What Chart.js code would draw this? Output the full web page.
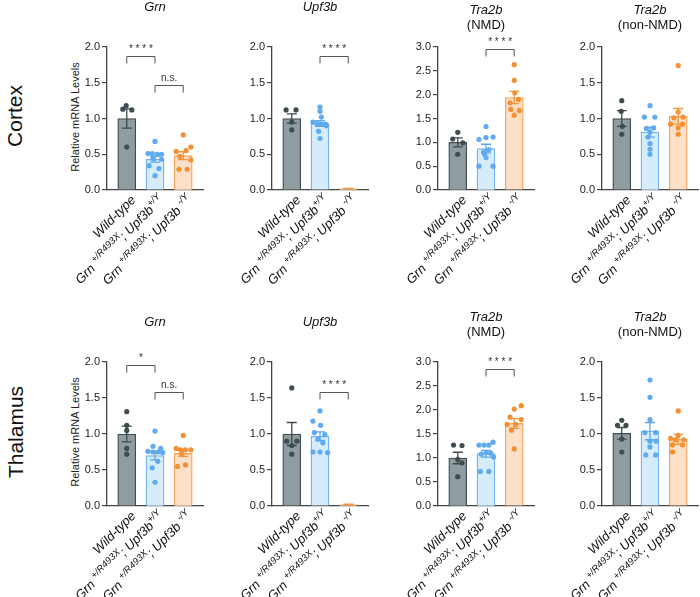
<!DOCTYPE html>
<html>
<head>
<meta charset="utf-8">
<script src="https://cdn.jsdelivr.net/npm/chart.js@4.4.1/dist/chart.umd.min.js"></script>
<style>
  body { margin: 0; background: #fff; font-family: Arial, "Liberation Sans", sans-serif; }
  #page { position: relative; width: 700px; height: 597px; overflow: hidden; background: #fff; }
  #page canvas { position: absolute; }
  .rot { position: absolute; transform: translate(-50%, -50%) rotate(-90deg); white-space: nowrap; color: #111; }
  .row-label { font-size: 21px; }
  .y-title { font-size: 11px; color: #222; }
</style>
</head>
<body>
<div id="page">
  <div class="rot row-label" style="left:15px; top:116px;">Cortex</div>
  <div class="rot row-label" style="left:16px; top:432px;">Thalamus</div>
  <div class="rot y-title" style="left:75px; top:117px;">Relative mRNA Levels</div>
  <div class="rot y-title" style="left:75px; top:432px;">Relative mRNA Levels</div>
</div>
<script>
// Groupes (étiquettes de l'axe x, avec exposants)
const groupLabels = [
    [['Wild-type', false]],
    [['Grn ', false], ['+/R493X', true], ['; Upf3b', false], ['+/Y', true]],
    [['Grn ', false], ['+/R493X', true], ['; Upf3b ', false], ['-/Y', true]]
];

// Panneaux : cortex (0-3), thalamus (4-7)
const titleMain = ['Grn', 'Upf3b', 'Tra2b', 'Tra2b', 'Grn', 'Upf3b', 'Tra2b', 'Tra2b'];
const titleSub = ['', '', '(NMD)', '(non-NMD)', '', '', '(NMD)', '(non-NMD)'];
const yMax = [2, 2, 3, 2, 2, 2, 3, 2];
const yTicks = [0, 0.5, 1.0, 1.5, 2.0, 2.5, 3.0];

// Moyennes et SEM [wt, het, ko]
const barMeans = [
    [1.0, 0.43, 0.48], [1.0, 0.93, 0.02], [1.0, 0.87, 1.94], [1.0, 0.81, 1.03],
    [1.0, 0.70, 0.73], [1.0, 0.97, 0.02], [1.0, 1.09, 1.72], [1.01, 1.04, 0.925]
];
const barSem = [
    [0.135, 0.04, 0.055], [0.065, 0.04, 0.004], [0.095, 0.09, 0.13], [0.11, 0.07, 0.11],
    [0.11, 0.06, 0.04], [0.16, 0.06, 0.004], [0.12, 0.07, 0.10], [0.08, 0.12, 0.07]
];

// Points individuels (valeurs) et décalage horizontal (jitter, en unités de catégorie)
const wtPoints = [
    [1.13, 1.18, 1.12, 0.60], [1.12, 1.12, 0.95, 0.84], [1.21, 1.07, 0.99, 0.75], [1.25, 1.10, 0.89, 0.78],
    [1.31, 1.12, 1.05, 0.80, 0.72], [1.64, 0.90, 0.90, 0.84, 0.72], [1.27, 1.26, 0.97, 0.90, 0.61], [1.19, 1.12, 1.12, 0.93, 0.75]
];
const wtJitter = [
    [-0.14, -0.02, 0.18, 0], [-0.2, 0.15, 0, 0], [0, -0.18, 0.18, 0], [0, -0.02, 0.02, 0],
    [0, 0, 0, 0, 0], [0, -0.18, 0.18, 0, 0], [-0.15, 0.15, 0, 0.15, 0], [0, -0.15, 0.15, 0, 0]
];
const hetPoints = [
    [0.68, 0.51, 0.51, 0.50, 0.50, 0.44, 0.43, 0.34, 0.30, 0.20],
    [1.16, 1.10, 1.02, 0.95, 0.93, 0.92, 0.92, 0.90, 0.82, 0.72],
    [1.33, 1.11, 1.10, 1.06, 0.85, 0.80, 0.75, 0.68, 0.50, 0.50],
    [1.18, 1.02, 1.02, 0.87, 0.86, 0.81, 0.74, 0.65, 0.57, 0.50],
    [1.04, 0.83, 0.80, 0.76, 0.75, 0.75, 0.74, 0.62, 0.53, 0.33],
    [1.32, 1.18, 1.12, 1.02, 0.99, 0.93, 0.88, 0.75, 0.75, 0.74],
    [1.27, 1.27, 1.27, 1.33, 1.12, 1.08, 1.10, 1.02, 0.72, 0.72],
    [1.75, 1.51, 1.20, 1.02, 1.02, 0.90, 0.90, 0.82, 0.71, 0.71]
];
const hetJitter = [
    [0, -0.25, -0.1, 0.07, 0.23, -0.07, 0.23, -0.21, 0.14, 0],
    [0, 0, 0.05, -0.25, -0.1, 0.05, 0.2, 0.23, -0.05, 0],
    [0, 0.25, 0, -0.25, 0.1, -0.08, -0.05, 0, -0.25, 0.25],
    [0, -0.2, 0.17, 0.13, -0.13, 0, -0.07, 0, 0, 0],
    [0, -0.07, 0.2, -0.25, -0.07, 0.1, 0.27, 0.1, -0.1, 0],
    [0, -0.25, 0.02, -0.2, 0.17, -0.07, 0.1, -0.25, 0, 0.27],
    [-0.25, -0.07, 0.1, 0.25, 0, -0.17, 0.17, 0.27, -0.2, 0.1],
    [0, 0, 0, -0.18, 0.2, 0, 0.22, 0, -0.15, 0.2]
];
const koPoints = [
    [0.77, 0.54, 0.60, 0.55, 0.47, 0.42, 0.29, 0.29], [],
    [2.63, 2.30, 2.04, 1.90, 1.83, 1.69, 1.67, 1.57], [1.74, 1.09, 1.02, 1.01, 0.92, 0.92, 0.87, 0.78],
    [0.98, 0.80, 0.78, 0.78, 0.78, 0.72, 0.57, 0.55], [],
    [2.02, 2.09, 1.85, 1.80, 1.70, 1.70, 1.58, 1.19], [1.32, 0.98, 0.94, 0.92, 0.92, 0.85, 0.85, 0.75]
];
const koJitter = [
    [0, -0.25, 0.27, 0.1, -0.12, 0.27, -0.15, 0.14], [],
    [0, 0, 0.02, 0.15, -0.15, -0.12, 0.18, 0], [0, 0, 0.17, -0.15, -0.27, 0.15, 0, 0],
    [0, -0.25, -0.1, 0.08, 0.27, -0.05, 0.08, -0.2], [],
    [0, 0.25, -0.15, 0.25, -0.25, 0.05, -0.1, 0], [0, 0, -0.27, -0.1, 0.2, -0.2, 0.15, -0.2]
];

// Comparaisons : [groupe1, groupe2, hauteur, libellé]
const brackets = [
    [[0, 1, 1.88, '****'], [1, 2, 1.465, 'n.s.']],
    [[1, 2, 1.88, '****']],
    [[1, 2, 2.95, '****']],
    [],
    [[0, 1, 1.96, '*'], [1, 2, 1.58, 'n.s.']],
    [[1, 2, 1.58, '****']],
    [[1, 2, 2.85, '****']],
    []
];

// Styles
const fillColors = ['#8f9da1', '#d5ecfb', '#fde0c7'];
const borderColors = ['#414e52', '#72b3ef', '#f4a55a'];
const dotColors = ['#3f4d51', '#60aaf0', '#f39031'];
const errColors = ['#3c494d', '#5ea6ea', '#f2953c'];
const axisX = [107, 272, 438, 602];
const rowTop = [47, 362];
const rowBottom = [190, 506];
const titleLift = [37, 45];
const FONT = 'Arial, "Liberation Sans", sans-serif';

const extrasPlugin = {
    id: 'extras',
    afterDatasetsDraw(chart) {
        const p = chart.options.plugins.extras.panel;
        const ctx = chart.ctx;
        const xs = chart.scales.x, ys = chart.scales.y;
        // barres d'erreur
        ctx.save();
        ctx.lineWidth = 1.3;
        for (let g = 0; g < 3; g++) {
            const cx = xs.getPixelForValue(g);
            const hi = ys.getPixelForValue(barMeans[p][g] + barSem[p][g]);
            const lo = ys.getPixelForValue(Math.max(0, barMeans[p][g] - barSem[p][g]));
            ctx.strokeStyle = errColors[g];
            ctx.beginPath();
            ctx.moveTo(cx, hi); ctx.lineTo(cx, lo);
            ctx.moveTo(cx - 5, hi); ctx.lineTo(cx + 5, hi);
            ctx.moveTo(cx - 5, lo); ctx.lineTo(cx + 5, lo);
            ctx.stroke();
        }
        ctx.restore();
    },
    afterDraw(chart) {
        const p = chart.options.plugins.extras.panel;
        const row = Math.floor(p / 4);
        const ctx = chart.ctx;
        const xs = chart.scales.x, ys = chart.scales.y;
        const area = chart.chartArea;
        ctx.save();
        // crochets de significativité
        ctx.strokeStyle = '#555';
        ctx.fillStyle = '#333';
        ctx.lineWidth = 1;
        brackets[p].forEach(b => {
            const x1 = xs.getPixelForValue(b[0]), x2 = xs.getPixelForValue(b[1]);
            const yT = Math.round(ys.getPixelForValue(b[2])) + 0.5;
            ctx.beginPath();
            ctx.moveTo(x1, yT + 7); ctx.lineTo(x1, yT); ctx.lineTo(x2, yT); ctx.lineTo(x2, yT + 7);
            ctx.stroke();
            const txt = b[3] === 'n.s.' ? b[3] : b[3].split('').join(' ');
            ctx.font = '10px ' + FONT;
            ctx.textAlign = 'center';
            ctx.textBaseline = 'bottom';
            ctx.fillText(txt, (x1 + x2) / 2, yT - 2);
        });
        // titres
        const cx = (area.left + area.right) / 2;
        ctx.fillStyle = '#111';
        ctx.textAlign = 'center';
        ctx.textBaseline = 'middle';
        ctx.font = 'italic 13px ' + FONT;
        if (titleSub[p]) {
            ctx.fillText(titleMain[p], cx, area.top - titleLift[row]);
            ctx.font = '13px ' + FONT;
            ctx.fillText(titleSub[p], cx, area.top - titleLift[row] + 15);
        } else {
            ctx.fillText(titleMain[p], cx, area.top - 40);
        }
        // étiquettes x inclinées
        ctx.fillStyle = '#111';
        groupLabels.forEach((parts, g) => {
            const mainFont = 'italic 13px ' + FONT;
            const supFont = 'italic 9.5px ' + FONT;
            let total = 0;
            parts.forEach(pt => { ctx.font = pt[1] ? supFont : mainFont; total += ctx.measureText(pt[0]).width; });
            ctx.save();
            ctx.translate(xs.getPixelForValue(g) + 7, area.bottom + 8);
            ctx.rotate(-Math.PI / 4);
            ctx.textAlign = 'left';
            ctx.textBaseline = 'middle';
            let cur = -total;
            parts.forEach(pt => {
                ctx.font = pt[1] ? supFont : mainFont;
                ctx.fillText(pt[0], cur, pt[1] ? -4.5 : 0);
                cur += ctx.measureText(pt[0]).width;
            });
            ctx.restore();
        });
        ctx.restore();
    }
};

function buildPanel(p) {
    const col = p % 4, row = Math.floor(p / 4);
    const padTop = 50, padBottom = 110;
    const canvas = document.createElement('canvas');
    const w = 150, h = (rowBottom[row] - rowTop[row]) + padTop + padBottom;
    canvas.width = w; canvas.height = h;
    canvas.style.left = (axisX[col] - 48) + 'px';
    canvas.style.top = (rowTop[row] - padTop) + 'px';
    document.getElementById('page').appendChild(canvas);

    const pts = [];
    const ptColors = [];
    [[wtPoints, wtJitter], [hetPoints, hetJitter], [koPoints, koJitter]].forEach((pair, g) => {
        pair[0][p].forEach((v, k) => {
            pts.push({ x: g + pair[1][p][k], y: v });
            ptColors.push(dotColors[g]);
        });
    });

    new Chart(canvas.getContext('2d'), {
        type: 'bar',
        data: {
            datasets: [{
                type: 'scatter',
                data: pts,
                pointBackgroundColor: ptColors,
                pointBorderWidth: 0,
                pointRadius: 2.6,
                order: 0
            }, {
                type: 'bar',
                data: barMeans[p].map((m, g) => ({ x: g, y: m })),
                backgroundColor: fillColors,
                borderColor: borderColors,
                borderWidth: 1.3,
                barThickness: 18,
                order: 1
            }]
        },
        options: {
            responsive: false,
            animation: false,
            devicePixelRatio: 1,
            layout: { padding: { top: padTop, bottom: padBottom, left: 8, right: 6 } },
            plugins: { legend: { display: false }, tooltip: { enabled: false }, extras: { panel: p } },
            scales: {
                x: {
                    type: 'linear', min: -0.7, max: 2.7, offset: false,
                    ticks: { display: false },
                    grid: { display: false, offset: false },
                    border: { color: '#444', width: 1.3 },
                    afterFit: s => { s.height = 0; }
                },
                y: {
                    min: 0, max: yMax[p],
                    afterBuildTicks: s => { s.ticks = yTicks.filter(t => t <= yMax[p]).map(v => ({ value: v })); },
                    ticks: { callback: v => v.toFixed(1), font: { family: FONT, size: 11 }, color: '#222', padding: 2 },
                    grid: { drawOnChartArea: false, tickLength: 5, color: '#444', lineWidth: 1.2 },
                    border: { color: '#444', width: 1.3 },
                    afterFit: s => { s.width = 40; }
                }
            }
        },
        plugins: [extrasPlugin]
    });
}

for (let p = 0; p < 8; p++) buildPanel(p);
</script>
</body>
</html>
